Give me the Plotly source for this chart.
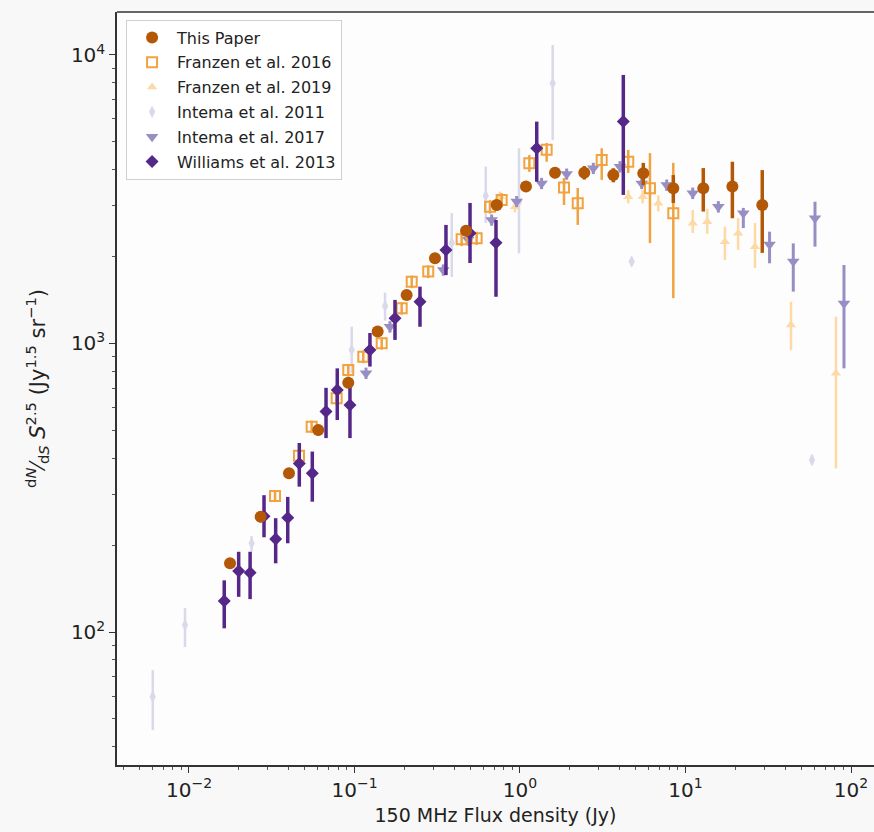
import plotly.graph_objects as go

# ---------------- data ----------------
# This Paper
tp_s = [0.0177, 0.0271, 0.0402, 0.0604, 0.0917, 0.138, 0.2066, 0.3064, 0.472, 0.723,
        1.087, 1.628, 2.446, 3.664, 5.56, 8.44, 12.81, 19.2, 29.1]
tp_v = [173, 251, 355, 501, 731, 1100, 1472, 1973, 2461, 3020,
        3500, 3909, 3909, 3835, 3893, 3452, 3452, 3500, 3020]
tp_hi = [180, 262, 370, 522, 762, 1145, 1530, 2060, 2570, 3150,
         3650, 4080, 4120, 4050, 4227, 3835, 4055, 4266, 3991]
tp_lo = [166, 240, 340, 480, 700, 1055, 1414, 1890, 2355, 2890,
         3350, 3740, 3700, 3620, 3541, 3070, 2866, 2717, 2061]

# Franzen et al. 2016
f16_s = [0.0331, 0.0462, 0.0551, 0.078, 0.0917, 0.113, 0.146, 0.1928, 0.2217, 0.279,
         0.444, 0.547, 0.659, 0.775, 1.139, 1.449, 1.845, 2.233, 3.117, 4.51, 6.10, 8.44]
f16_v = [296, 408, 515, 646, 809, 900, 1002, 1324, 1637, 1775,
         2298, 2318, 2979, 3143, 4218, 4690, 3476, 3063, 4325, 4266, 3452, 2827]
f16_hi = [310, 428, 540, 678, 850, 945, 1052, 1390, 1720, 1865,
          2420, 2440, 3140, 3320, 4498, 4955, 3750, 3460, 4750, 4690, 4570, 4227]
f16_lo = [282, 388, 490, 614, 768, 855, 952, 1258, 1555, 1685,
          2176, 2196, 2818, 2966, 3935, 4266, 3020, 2576, 3690, 3900, 2228, 1436]

# Franzen et al. 2019
f19_s = [0.758, 0.933, 4.51, 5.51, 6.85, 11.06, 13.54, 17.3, 20.8, 26.3, 43.4, 81.1]
f19_v = [3228, 2979, 3228, 3228, 3063, 2613, 2644, 2254, 2410, 2166, 1158, 789]
f19_hi = [3360, 3110, 3400, 3400, 3260, 2903, 2930, 2541, 2720, 2618, 1396, 1239]
f19_lo = [3096, 2848, 3060, 3060, 2870, 2416, 2400, 1947, 2110, 1829, 949, 369]

# Intema et al. 2011
i11_s = [0.00604, 0.00946, 0.0239, 0.0962, 0.153, 0.387, 0.621, 0.986, 1.576, 4.73, 58.1]
i11_v = [59.7, 105.7, 203, 950, 1349, 2228, 3250, 3100, 7980, 1924, 395]
i11_hi = [73.8, 121, 215, 1143, 1500, 2830, 4100, 4750, 10830, 1990, 410]
i11_lo = [45.7, 88.7, 190, 789, 1200, 1700, 2618, 2055, 5070, 1860, 380]

# Intema et al. 2017
i17_s = [0.1174, 0.1638, 0.344, 0.487, 0.674, 0.955, 1.35, 1.914, 2.774, 4.02, 5.44,
         7.70, 11.06, 15.79, 22.36, 32.2, 44.8, 60.6, 90.7]
i17_v = [789, 1143, 1799, 2287, 2680, 3107, 3589, 3868, 4048, 4100, 3589,
         3541, 3318, 2979, 2827, 2202, 1924, 2717, 1377]
i17_hi = [825, 1195, 1880, 2390, 2800, 3245, 3750, 4040, 4230, 4285, 3750,
          3700, 3470, 3115, 2951, 2441, 2223, 3101, 1871]
i17_lo = [753, 1091, 1718, 2184, 2560, 2969, 3428, 3696, 3866, 3915, 3428,
          3382, 3166, 2843, 2512, 1897, 1513, 2166, 820]

# Williams et al. 2013
w13_s = [0.01633, 0.01996, 0.0234, 0.0284, 0.0334, 0.0395, 0.0464, 0.0556, 0.0673, 0.0787,
         0.0939, 0.124, 0.1757, 0.2487, 0.357, 0.499, 0.716, 1.262, 4.21]
w13_v = [128, 162.7, 160.6, 252, 210, 249, 384, 355, 581, 690,
         612, 949, 1222, 1396, 2109, 2410, 2233, 4750, 5876]
w13_hi = [151, 189.7, 189.7, 298, 248, 294, 452, 422, 702, 820,
          718, 1087, 1416, 1574, 2576, 3070, 2680, 5876, 8527]
w13_lo = [103, 132.4, 130, 213, 173, 203, 319, 283, 470, 543,
          470, 832, 1029, 1143, 1726, 1901, 1452, 3640, 3273]

x_tickvals = [0.01, 0.1, 1, 10, 100]
x_ticktext = ["10<sup>−2</sup>", "10<sup>−1</sup>", "10<sup>0</sup>", "10<sup>1</sup>", "10<sup>2</sup>"]
y_tickvals = [100, 1000, 10000]
y_ticktext = ["10<sup>2</sup>", "10<sup>3</sup>", "10<sup>4</sup>"]

# ---------------- figure ----------------
def err(v, hi, lo):
    return dict(type="data", symmetric=False,
                array=[h - a for h, a in zip(hi, v)],
                arrayminus=[a - l for a, l in zip(v, lo)])

fig = go.Figure()

series = [
    # name, x, y, hi, lo, color, symbol, size, thickness, rank, open
    ("Intema et al. 2011", i11_s, i11_v, i11_hi, i11_lo, "#d8daeb", "diamond-tall", 9, 2.5, 4, False),
    ("Franzen et al. 2019", f19_s, f19_v, f19_hi, f19_lo, "#fdd9a6", "triangle-up", 9, 2.5, 3, False),
    ("Intema et al. 2017", i17_s, i17_v, i17_hi, i17_lo, "#998ec3", "triangle-down", 11, 3, 5, False),
    ("Franzen et al. 2016", f16_s, f16_v, f16_hi, f16_lo, "#f1a340", "square-open", 10, 2.5, 2, True),
    ("Williams et al. 2013", w13_s, w13_v, w13_hi, w13_lo, "#542788", "diamond", 10, 3.5, 6, False),
    ("This Paper", tp_s, tp_v, tp_hi, tp_lo, "#b35806", "circle", 12, 3.5, 1, False),
]

for name, xs, ys, hi, lo, col, sym, size, th, rank, is_open in series:
    marker = dict(color=col, symbol=sym, size=size)
    if is_open:
        marker["line"] = dict(color=col, width=2)
    fig.add_trace(go.Scatter(
        x=xs, y=ys, mode="markers", name=name, legendrank=rank, legendgroup=name,
        marker=marker,
        error_y=dict(err(ys, hi, lo), color=col, thickness=th, width=0),
    ))

axis_font = dict(family="DejaVu Sans", size=20, color="#222")
fig.update_layout(
    width=874, height=832,
    margin=dict(l=117, r=0, t=12, b=67),
    paper_bgcolor="#f8f8f8",
    plot_bgcolor="#fdfdfd",
    font=dict(family="DejaVu Sans", color="#222"),
    legend=dict(x=0.012, y=0.99, xanchor="left", yanchor="top",
                bgcolor="rgba(255,255,255,0.9)", bordercolor="#d0d0d0", borderwidth=1,
                font=dict(family="DejaVu Sans", size=16, color="#222"),
                traceorder="grouped", tracegroupgap=1, itemwidth=40),
    showlegend=True,
    shapes=[dict(type="line", xref="paper", yref="paper", x0=0, x1=1, y0=1, y1=1,
                 line=dict(color="#333", width=1.5))],
)
fig.update_xaxes(
    type="log", range=[-2.435, 2.139],
    tickvals=x_tickvals, ticktext=x_ticktext, tickfont=axis_font,
    ticks="outside", ticklen=6, tickwidth=1.2, tickcolor="#333",
    minor=dict(ticks="outside", ticklen=3, tickcolor="#555", dtick="D1", showgrid=False),
    showgrid=False, zeroline=False, showline=True, linecolor="#333", linewidth=1.5, mirror=False,
    title=dict(text="150 MHz Flux density (Jy)", font=dict(family="DejaVu Sans", size=19, color="#222"), standoff=8),
)
fig.update_yaxes(
    type="log", range=[1.539, 4.149],
    tickvals=y_tickvals, ticktext=y_ticktext, tickfont=axis_font,
    ticks="outside", ticklen=6, tickwidth=1.2, tickcolor="#333",
    minor=dict(ticks="outside", ticklen=3, tickcolor="#555", dtick="D1", showgrid=False),
    showgrid=False, zeroline=False, showline=True, linecolor="#333", linewidth=1.5, mirror=False,
    title=dict(text="<sup>d<i>N</i></sup>⁄<sub>d<i>S</i></sub> <i>S</i><sup>2.5</sup> (Jy<sup>1.5</sup> sr<sup>−1</sup>)",
               font=dict(family="DejaVu Sans", size=21, color="#222"), standoff=20),
)

fig.write_html("out.html")
